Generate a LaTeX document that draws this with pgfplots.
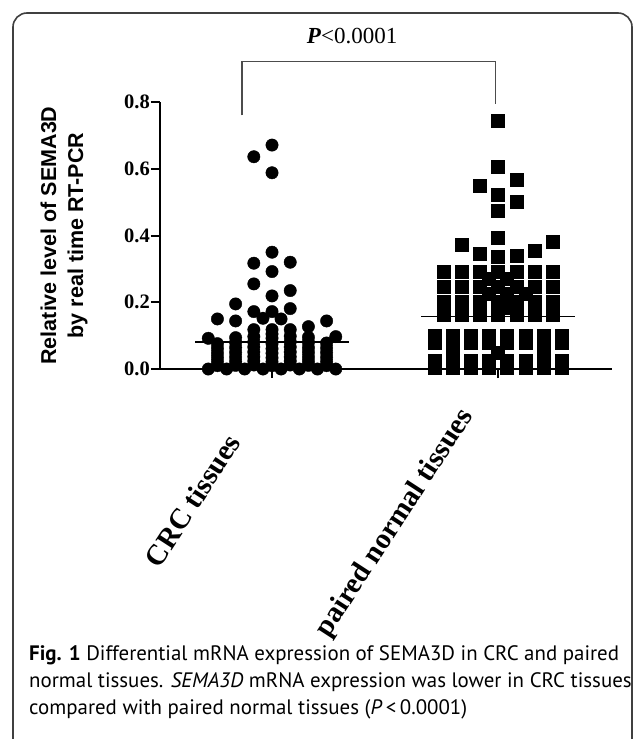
\documentclass[border=0pt]{standalone}
\usepackage{pgfplots}
\pgfplotsset{compat=1.18}
\usepackage{fontspec}
\setmainfont{Liberation Serif}
\newfontfamily\arialf{Liberation Sans}
\newfontfamily\capf{PT Sans}

\begin{document}
\begin{tikzpicture}
\path[use as bounding box] (0pt,0pt) rectangle (633pt,-739pt);
\draw[black!75, line width=1.6pt, rounded corners=14pt] (13pt,-770pt) rectangle (632pt,-13pt);

\begin{axis}[
  at={(160pt,-369pt)}, anchor=south west,
  scale only axis, width=452pt, height=267pt,
  xmin=-0.4956, xmax=1.504, ymin=0, ymax=0.8,
  clip=false,
  axis x line*=bottom, axis y line*=left,
  x axis line style={line width=2pt},
  y axis line style={line width=2.6pt},
  tick align=outside,
  major tick length=9pt,
  tick style={black, line width=2pt},
  xtick={1},
  xticklabels={paired normal tissues},
  xticklabel style={font=\fontsize{29}{31}\selectfont\bfseries, rotate=57, anchor=east, inner sep=0pt, xshift=-45pt, yshift=7pt},
  extra x ticks={0},
  extra x tick labels={CRC tissues},
  extra x tick style={xticklabel style={xshift=-25.5pt, yshift=-7pt}},
  ytick={0,0.2,0.4,0.6,0.8},
  yticklabel style={font=\fontsize{20.5}{22}\selectfont\bfseries, inner sep=1pt},
  ylabel={Relative level of SEMA3D\\by real time RT-PCR},
  ylabel style={font=\arialf\bfseries\fontsize{21.5}{27}\selectfont, align=center, at={(axis description cs:0,0.5)}, anchor=center, yshift=96pt},
  /pgf/number format/fixed,
  /pgf/number format/fixed zerofill,
  /pgf/number format/precision=1,
  /pgf/number format/assume math mode=true,
]

% CRC tissues
\addplot[only marks, mark=*, mark size=6.2pt, black] table {
x y
0 0.671
-0.0805 0.636
0 0.588
0 0.350
-0.0805 0.317
0.0805 0.320
0 0.292
-0.0805 0.255
0.0805 0.235
0 0.219
-0.161 0.195
-0.0805 0.172
0 0.172
0.0805 0.181
-0.2415 0.150
-0.161 0.144
-0.040 0.152
0.040 0.150
0.161 0.127
0.2415 0.144
-0.0805 0.118
0 0.118
0.0805 0.118
-0.282 0.092
0.282 0.097
-0.2415 0.010
-0.2415 0.022
-0.2415 0.035
-0.2415 0.048
-0.2415 0.062
-0.2415 0.076
-0.161 0.011
-0.161 0.023
-0.161 0.036
-0.161 0.050
-0.161 0.064
-0.161 0.079
-0.161 0.094
-0.0805 0.012
-0.0805 0.024
-0.0805 0.037
-0.0805 0.051
-0.0805 0.066
-0.0805 0.081
-0.0805 0.097
0 0.010
0 0.022
0 0.034
0 0.047
0 0.061
0 0.076
0 0.092
0 0.105
0.0805 0.012
0.0805 0.024
0.0805 0.037
0.0805 0.051
0.0805 0.066
0.0805 0.082
0.0805 0.098
0.161 0.011
0.161 0.023
0.161 0.036
0.161 0.050
0.161 0.064
0.161 0.080
0.161 0.095
0.2415 0.010
0.2415 0.022
0.2415 0.035
0.2415 0.049
0.2415 0.063
0.2415 0.078
-0.282 0.0
-0.201 0.0
-0.121 0.0
-0.040 0.0
0.040 0.0
0.121 0.0
0.201 0.0
0.282 0.0
};

% paired normal tissues
\addplot[only marks, mark=square*, mark size=6.5pt, black] table {
x y
1 0.743
1 0.606
1.0805 0.566
0.9195 0.548
1 0.523
1.0805 0.500
1 0.473
1 0.393
0.839 0.372
1.2415 0.382
0.9195 0.345
1 0.337
1.0805 0.339
1.161 0.355
0.7585 0.292
0.839 0.292
0.9195 0.292
1 0.292
1.0805 0.292
1.161 0.292
1.2415 0.292
0.960 0.270
1.040 0.270
0.7585 0.247
0.839 0.247
0.9195 0.247
1 0.247
1.0805 0.247
1.161 0.247
1.2415 0.247
0.960 0.225
1.040 0.225
1.121 0.225
0.7585 0.202
0.839 0.202
0.9195 0.202
1 0.202
1.0805 0.202
1.161 0.202
1.2415 0.202
1.040 0.185
0.7585 0.163
0.839 0.163
0.9195 0.163
1 0.163
1.0805 0.163
1.161 0.163
1.2415 0.163
0.718 0.100
0.799 0.100
0.879 0.100
0.960 0.100
1.040 0.100
1.121 0.100
1.201 0.100
1.282 0.100
0.718 0.078
0.799 0.078
0.879 0.078
0.960 0.078
1.040 0.078
1.121 0.078
1.201 0.078
1.282 0.078
0.799 0.050
1.000 0.050
1.201 0.050
0.718 0.025
0.799 0.025
0.879 0.025
0.960 0.025
1.040 0.025
1.121 0.025
1.201 0.025
1.282 0.025
0.718 0.004
0.799 0.004
0.879 0.004
0.960 0.004
1.040 0.004
1.121 0.004
1.201 0.004
1.282 0.004
};

% means
\addplot[black, line width=1.5pt] coordinates {(-0.34,0.081) (0.34,0.081)};
\addplot[black, line width=1.5pt] coordinates {(0.66,0.157) (1.34,0.157)};

% significance bracket
\addplot[black!70, line width=1.2pt] coordinates {(-0.133,0.760) (-0.133,0.922) (0.99,0.922) (0.99,0.793)};
\node[font=\fontsize{23}{25}\selectfont] at (axis cs:0.354,0.997) {\textbf{\textit{P}}<0.0001};
\end{axis}

\node[anchor=base west, inner sep=0pt, font=\capf\fontsize{20.9}{27}\selectfont] at (29pt,-660pt) {\textbf{Fig. 1} Differential mRNA expression of SEMA3D in CRC and paired};
\node[anchor=base west, inner sep=0pt, font=\capf\fontsize{20.9}{27}\selectfont] at (29pt,-687pt) {normal tissues. \textit{SEMA3D} mRNA expression was lower in CRC tissues};
\node[anchor=base west, inner sep=0pt, font=\capf\fontsize{20.9}{27}\selectfont] at (29pt,-714pt) {compared with paired normal tissues (\textit{P}\,<\,0.0001)};
\end{tikzpicture}
\end{document}
